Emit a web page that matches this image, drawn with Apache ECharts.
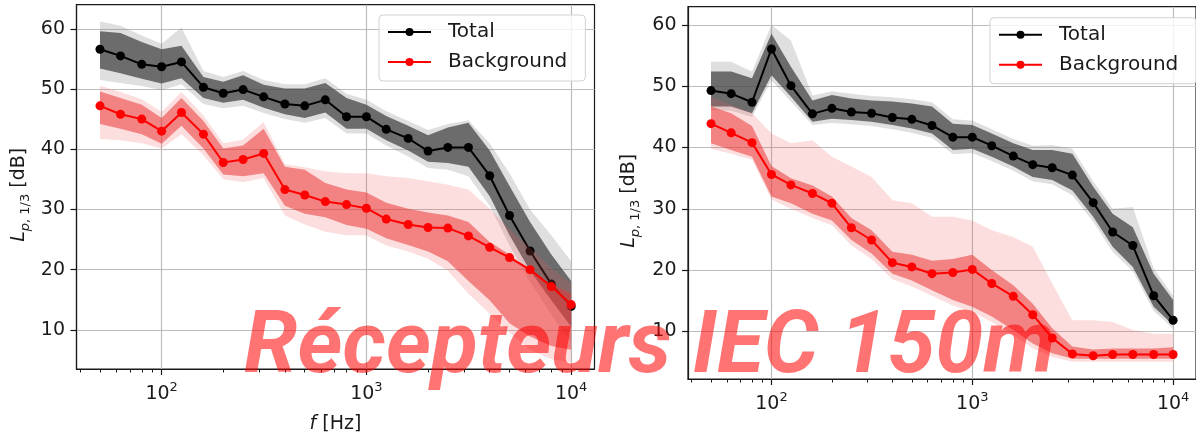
<!DOCTYPE html>
<html>
<head>
<meta charset="utf-8">
<script src="https://cdn.jsdelivr.net/npm/echarts@6/dist/echarts.min.js"></script>
<style>
  html, body { margin: 0; padding: 0; background: #fff; }
  #chart { width: 1196px; height: 439px; }
</style>
</head>
<body>
<div id="chart"></div>
<script>
// 1/3 octave centre frequencies
const freqs = [50, 63, 80, 100, 125, 160, 200, 250, 315, 400, 500, 630, 800, 1000, 1250, 1600, 2000, 2500, 3150, 4000, 5000, 6300, 8000, 10000]
const majorTicks = [100, 1000, 10000]
const minorTicks = [40, 50, 60, 70, 80, 90, 200, 300, 400, 500, 600, 700, 800, 900, 2000, 3000, 4000, 5000, 6000, 7000, 8000, 9000]
const yTicks = [10, 20, 30, 40, 50, 60]

// left panel - Total
const totalA = [56.6, 55.5, 54.1, 53.7, 54.5, 50.3, 49.3, 49.9, 48.7, 47.5, 47.2, 48.2, 45.4, 45.4, 43.3, 41.8, 39.7, 40.3, 40.3, 35.6, 29.0, 23.1, 17.6, 13.9]
const totalACoreHi = [59.6, 59.3, 57.8, 56.6, 57.2, 52.0, 51.2, 52.3, 50.7, 50.1, 50.1, 51.0, 48.5, 47.4, 45.5, 43.9, 42.3, 43.6, 44.4, 39.8, 33.9, 27.9, 22.5, 18.1]
const totalACoreLo = [53.4, 52.6, 51.7, 50.9, 51.8, 48.5, 47.7, 48.2, 46.9, 45.8, 45.2, 46.1, 43.4, 43.4, 41.5, 39.8, 37.9, 37.7, 37.1, 32.2, 25.7, 19.8, 14.9, 10.5]
const totalAFringeHi = [61.2, 60.5, 58.9, 57.5, 60.2, 53.0, 52.0, 53.0, 51.5, 50.8, 50.8, 51.8, 49.2, 48.2, 46.3, 44.7, 43.2, 44.2, 44.8, 41.0, 36.0, 30.0, 25.7, 21.4]
const totalAFringeLo = [51.5, 51.0, 50.5, 49.8, 50.8, 47.5, 46.8, 47.2, 46.0, 45.0, 44.4, 45.2, 42.6, 42.6, 40.6, 38.8, 36.9, 36.6, 35.5, 30.6, 24.0, 18.0, 12.5, 7.8]

// left panel - Background
const bgA = [47.2, 45.8, 45.0, 43.0, 46.1, 42.5, 37.8, 38.3, 39.3, 33.3, 32.4, 31.3, 30.8, 30.2, 28.4, 27.5, 27.0, 26.9, 25.6, 23.7, 22.0, 20.0, 17.2, 14.2]
const bgACoreHi = [49.6, 48.5, 47.4, 45.2, 48.5, 44.7, 40.1, 40.6, 43.4, 37.1, 36.6, 34.4, 33.3, 32.8, 31.1, 30.1, 29.5, 29.0, 27.9, 24.6, 22.5, 19.8, 17.6, 16.0]
const bgACoreLo = [44.2, 43.4, 42.5, 40.9, 43.9, 40.1, 35.8, 35.5, 36.0, 30.6, 29.3, 28.7, 27.4, 26.8, 25.2, 24.1, 23.0, 21.4, 18.1, 14.9, 11.1, 8.9, 7.3, 6.7]
const bgAFringeHi = [50.6, 49.5, 48.3, 46.2, 49.5, 45.6, 41.0, 41.6, 44.5, 37.5, 37.0, 36.3, 36.0, 36.0, 35.5, 35.2, 34.7, 34.1, 33.3, 30.1, 26.8, 23.6, 20.3, 17.6]
const bgAFringeLo = [41.7, 41.5, 41.0, 40.1, 42.5, 39.0, 35.0, 34.5, 35.2, 29.0, 27.5, 26.3, 25.7, 25.7, 24.0, 23.0, 21.8, 19.8, 16.0, 12.7, 9.5, 6.7, 5.1, 4.6]

// right panel - Total
const totalB = [49.3, 48.8, 47.4, 56.1, 50.1, 45.5, 46.4, 45.8, 45.6, 44.9, 44.6, 43.6, 41.7, 41.7, 40.3, 38.6, 37.2, 36.7, 35.5, 31.0, 26.2, 24.0, 15.8, 11.8]
const totalBCoreHi = [52.4, 52.4, 51.3, 58.6, 53.2, 47.7, 48.6, 48.0, 47.7, 47.5, 47.2, 46.7, 43.9, 43.7, 42.3, 40.7, 39.6, 39.6, 39.0, 33.6, 29.2, 27.0, 19.4, 15.1]
const totalBCoreLo = [46.7, 46.7, 45.6, 51.8, 48.3, 44.2, 44.7, 44.5, 44.2, 43.7, 43.1, 42.3, 39.6, 39.8, 38.5, 36.9, 35.2, 34.7, 33.0, 28.7, 23.8, 20.5, 14.0, 11.0]
const totalBFringeHi = [54.0, 54.0, 52.4, 60.0, 57.5, 48.5, 49.2, 48.8, 48.4, 48.2, 47.9, 47.4, 44.6, 44.4, 43.0, 41.4, 40.3, 40.4, 39.8, 34.5, 30.0, 30.3, 20.3, 15.8]
const totalBFringeLo = [46.1, 46.0, 45.0, 51.0, 47.5, 43.7, 44.0, 43.8, 43.5, 43.0, 42.4, 41.6, 38.9, 39.1, 37.8, 36.2, 34.5, 34.0, 32.2, 27.9, 23.0, 19.8, 13.3, 10.4]

// right panel - Background
const bgB = [43.9, 42.4, 40.8, 35.6, 33.9, 32.5, 30.9, 26.9, 24.9, 21.2, 20.5, 19.4, 19.6, 20.1, 17.8, 15.7, 12.7, 8.9, 6.3, 6.0, 6.2, 6.2, 6.2, 6.2]
const bgBCoreHi = [46.7, 45.6, 43.5, 37.0, 35.0, 33.8, 32.0, 28.5, 26.5, 23.0, 22.5, 21.5, 21.8, 22.5, 20.0, 17.5, 14.5, 10.5, 7.5, 7.0, 7.2, 7.2, 7.2, 7.4]
const bgBCoreLo = [40.7, 39.6, 38.5, 32.0, 30.9, 29.2, 28.1, 24.9, 22.7, 19.4, 18.3, 16.7, 15.1, 14.0, 12.4, 10.2, 8.0, 6.4, 5.5, 5.5, 5.5, 5.5, 5.5, 5.5]
const bgBFringeHi = [48.3, 47.0, 45.6, 42.3, 40.7, 41.2, 38.5, 36.9, 35.2, 31.4, 30.9, 28.7, 28.7, 28.1, 26.5, 25.4, 23.8, 17.8, 11.8, 11.8, 11.5, 10.2, 9.6, 9.6]
const bgBFringeLo = [39.8, 39.0, 38.0, 31.5, 30.0, 28.5, 27.3, 24.0, 21.8, 18.5, 17.3, 15.8, 14.2, 13.2, 11.5, 9.4, 7.2, 5.8, 5.0, 5.0, 5.0, 5.0, 5.0, 5.0]

const FONT = 'DejaVu Sans'
const INK = '#1a1a1a'

const chart = echarts.init(document.getElementById('chart'), null, { renderer: 'canvas' })

// polygon between lo and hi, drawn once through the axes of the series
function band(grid, lo, hi, fill, z) {
  return {
    type: 'custom',
    xAxisIndex: grid * 2,
    yAxisIndex: grid,
    silent: true,
    z: z,
    data: freqs.map((f, i) => [f, lo[i], hi[i]]),
    encode: { x: 0, y: [1, 2] },
    renderItem(params, api) {
      if (params.dataIndex !== 0) return
      const pts = []
      for (let i = 0; i < freqs.length; i++) pts.push(api.coord([freqs[i], hi[i]]))
      for (let i = freqs.length - 1; i >= 0; i--) pts.push(api.coord([freqs[i], lo[i]]))
      return { type: 'polygon', shape: { points: pts }, style: { fill: fill } }
    }
  }
}

function meanLine(grid, name, values, color, z) {
  return {
    type: 'line',
    name: name,
    xAxisIndex: grid * 2,
    yAxisIndex: grid,
    z: z,
    symbol: 'circle',
    symbolSize: 9,
    showSymbol: true,
    lineStyle: { color: color, width: 2 },
    itemStyle: { color: color },
    emphasis: { disabled: true },
    data: freqs.map((f, i) => [f, values[i]])
  }
}

function xAxes(grid) {
  const common = { gridIndex: grid, type: 'log', logBase: 10, min: 38.4, max: 13000, position: 'bottom' }
  return [{
    ...common,
    axisLine: { show: true, lineStyle: { color: INK, width: 1.2 } },
    axisTick: { show: true, length: 6, customValues: majorTicks, lineStyle: { color: INK, width: 1.2 } },
    splitLine: { show: true, lineStyle: { color: '#bcbcbc', width: 1.2 } },
    axisLabel: {
      customValues: majorTicks,
      margin: 12,
      formatter: v => '{b|10}{s|' + Math.round(Math.log10(v)) + '}',
      rich: {
        b: { fontFamily: FONT, fontSize: 19, color: INK, lineHeight: 26, verticalAlign: 'middle' },
        s: { fontFamily: FONT, fontSize: 13, color: INK, lineHeight: 14, verticalAlign: 'top' }
      }
    }
  }, {
    ...common,
    axisLine: { show: false },
    axisTick: { show: true, length: 3.5, customValues: minorTicks, lineStyle: { color: INK, width: 1 } },
    axisLabel: { show: false },
    splitLine: { show: false }
  }]
}

function yAxis(grid, min, max, gap) {
  return {
    gridIndex: grid,
    type: 'value',
    min: min,
    max: max,
    name: '{i|L}{sp|p}{sb|, 1/3}{n| [dB]}',
    nameLocation: 'middle',
    nameRotate: 90,
    nameGap: gap,
    nameTextStyle: {
      padding: [0, 16, 0, 0],
      rich: {
        i: { fontFamily: FONT, fontStyle: 'italic', fontSize: 19, color: INK, lineHeight: 26, verticalAlign: 'middle' },
        n: { fontFamily: FONT, fontSize: 19, color: INK, lineHeight: 26, verticalAlign: 'middle' },
        sp: { fontFamily: FONT, fontStyle: 'italic', fontSize: 13, color: INK, lineHeight: 15, verticalAlign: 'bottom' },
        sb: { fontFamily: FONT, fontSize: 13, color: INK, lineHeight: 15, verticalAlign: 'bottom' }
      }
    },
    axisLine: { show: true, lineStyle: { color: INK, width: 1.2 } },
    axisTick: { show: true, length: 6, customValues: yTicks, lineStyle: { color: INK, width: 1.2 } },
    splitLine: { show: true, lineStyle: { color: '#bcbcbc', width: 1.2 } },
    axisLabel: {
      customValues: yTicks,
      margin: 11.5,
      fontFamily: FONT,
      fontSize: 19,
      color: INK
    }
  }
}

function legendAt(left, top) {
  return {
    left: left,
    top: top,
    orient: 'vertical',
    selectedMode: false,
    data: ['Total', 'Background'],
    itemWidth: 43,
    itemHeight: 10,
    itemGap: 10,
    padding: [7, 18, 9, 8],
    backgroundColor: 'rgba(255,255,255,0.8)',
    borderColor: '#d2d2d2',
    borderWidth: 1,
    borderRadius: 4,
    z: 20,
    textStyle: { fontFamily: FONT, fontSize: 20, color: INK, lineHeight: 20, padding: [0, 0, 0, 12] }
  }
}

const GREY_FRINGE = 'rgba(110,110,110,0.22)'
const GREY_CORE = 'rgba(70,70,70,0.75)'
const RED_FRINGE = 'rgba(240,90,90,0.2)'
const RED_CORE = 'rgba(235,55,55,0.55)'

const xa = xAxes(0)
xa[0].name = '{i|f} [Hz]'
xa[0].nameLocation = 'middle'
xa[0].nameGap = 46
xa[0].nameTextStyle = {
  fontFamily: FONT, fontSize: 19, color: INK,
  rich: { i: { fontFamily: FONT, fontStyle: 'italic', fontSize: 19, color: INK } }
}

chart.setOption({
  animation: false,
  backgroundColor: '#fff',
  grid: [
    { left: 76.5, top: 4.7, width: 518, height: 372, show: true, borderColor: INK, borderWidth: 1.2, backgroundColor: 'transparent' },
    { left: 688, top: 6.7, width: 518, height: 372.3, show: true, borderColor: INK, borderWidth: 1.2, backgroundColor: 'transparent' }
  ],
  xAxis: [...xa, ...xAxes(1)],
  yAxis: [yAxis(0, 3.5, 64.0, 44), yAxis(1, 2.2, 63.0, 46)],
  legend: [legendAt(379, 15), legendAt(990, 17.7)],
  graphic: [{
    type: 'text',
    left: 244,
    top: 307,
    z: 100,
    silent: true,
    style: {
      text: 'Récepteurs IEC 150m',
      font: 'italic bold 86px Roboto',
      fill: 'rgba(255,0,0,0.55)'
    }
  }],
  series: [
    band(0, totalAFringeLo, totalAFringeHi, GREY_FRINGE, 1),
    band(0, totalACoreLo, totalACoreHi, GREY_CORE, 2),
    meanLine(0, 'Total', totalA, '#000000', 3),
    band(0, bgAFringeLo, bgAFringeHi, RED_FRINGE, 4),
    band(0, bgACoreLo, bgACoreHi, RED_CORE, 5),
    meanLine(0, 'Background', bgA, '#ff0000', 6),
    band(1, totalBFringeLo, totalBFringeHi, GREY_FRINGE, 1),
    band(1, totalBCoreLo, totalBCoreHi, GREY_CORE, 2),
    meanLine(1, 'Total', totalB, '#000000', 3),
    band(1, bgBFringeLo, bgBFringeHi, RED_FRINGE, 4),
    band(1, bgBCoreLo, bgBCoreHi, RED_CORE, 5),
    meanLine(1, 'Background', bgB, '#ff0000', 6)
  ]
})
</script>
</body>
</html>
